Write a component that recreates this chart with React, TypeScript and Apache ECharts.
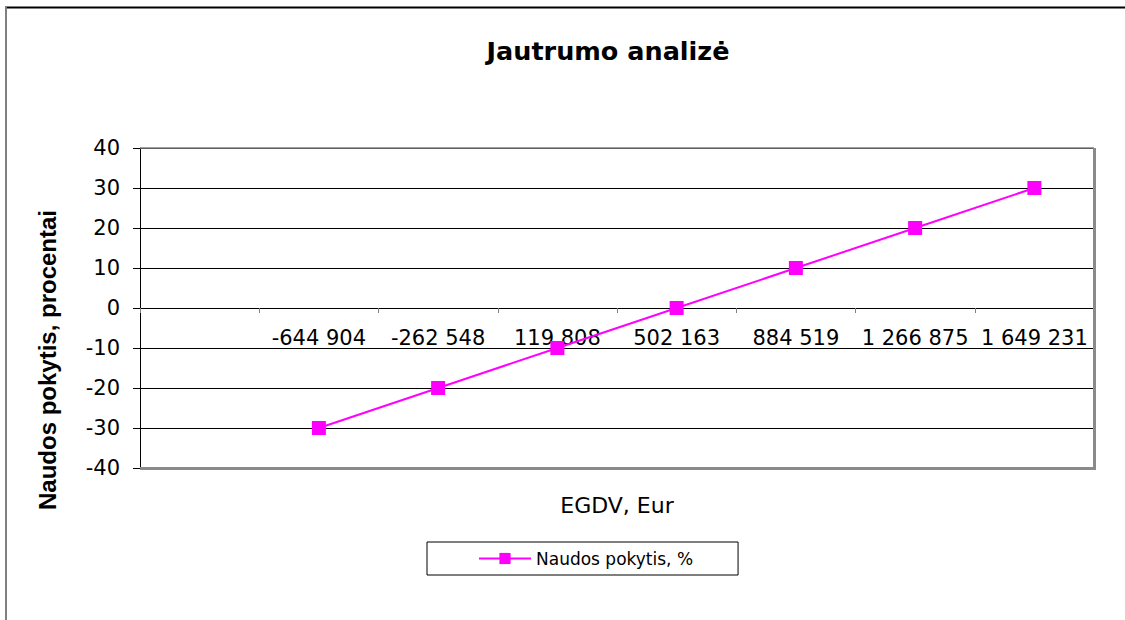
import React, { useEffect, useRef } from "react";
import * as echarts from "echarts";

const categories = ["", "-644 904", "-262 548", "119 808", "502 163", "884 519", "1 266 875", "1 649 231"];
const benefitChange = [null, -30, -20, -10, 0, 10, 20, 30];
const seriesName = "Naudos pokytis, %";
const titleText = "Jautrumo analizė";
const xName = "EGDV, Eur";
const yName = "Naudos pokytis, procentai";

const wideFont = "'DejaVu Sans', sans-serif";
const arialFont = "'Liberation Sans', Arial, sans-serif";

export default function App() {
  const ref = useRef<HTMLDivElement>(null);
  useEffect(() => {
    document.body.style.margin = "0";
    const chart = echarts.init(ref.current!, null, { renderer: "svg" });
    const L = 140, R = 1094, T = 148, B = 468;
    chart.setOption({
      animation: false,
      backgroundColor: "#ffffff",
      title: {
        text: titleText,
        left: 603,
        top: 33,
        textAlign: "center",
        textStyle: { fontFamily: wideFont, fontWeight: "bold", fontSize: 25.5, color: "#000" },
      },
      grid: { left: L, right: 1125 - R, top: T, bottom: 620 - B, containLabel: false, outerBoundsMode: "none" },
      legend: {
        left: 427,
        top: 542,
        orient: "horizontal",
        padding: [8, 45, 8, 51],
        borderColor: "#000",
        borderWidth: 1,
        borderRadius: 0,
        itemWidth: 52,
        itemHeight: 14,
        itemGap: 5,
        textStyle: { fontFamily: wideFont, fontSize: 17, color: "#000", padding: [0, 0, 0, 0] },
        data: [seriesName],
      },
      xAxis: {
        type: "category",
        data: categories,
        boundaryGap: true,
        offset: -(B - 308),
        name: xName,
        nameLocation: "middle",
        nameGap: 186,
        nameTextStyle: { fontFamily: wideFont, fontSize: 22, color: "#000" },
        axisLine: { onZero: false, lineStyle: { color: "#000", width: 1 } },
        axisTick: { show: true, length: 5, lineStyle: { color: "#808080" } },
        axisLabel: { interval: 0, margin: 19, fontFamily: wideFont, fontSize: 21, color: "#000" },
        splitLine: { show: false },
        z: 1,
      },
      yAxis: {
        type: "value",
        min: -40,
        max: 40,
        interval: 10,
        axisLine: { show: true, lineStyle: { color: "#000", width: 1 } },
        axisTick: { show: true, length: 7, lineStyle: { color: "#000" } },
        axisLabel: { margin: 20, fontFamily: wideFont, fontSize: 21, color: "#000" },
        splitLine: { show: true, lineStyle: { color: "#000", width: 1 } },
      },
      series: [
        {
          name: seriesName,
          type: "line",
          data: benefitChange,
          symbol: "rect",
          symbolSize: 14,
          color: "#FF00FF",
          itemStyle: { color: "#FF00FF" },
          lineStyle: { color: "#FF00FF", width: 2 },
          z: 5,
        },
      ],
      graphic: [
        { type: "line", z: 100, shape: { x1: 5, y1: 7.5, x2: 1125, y2: 7.5 }, style: { stroke: "#000", lineWidth: 2 } },
        { type: "line", z: 100, shape: { x1: 6, y1: 7, x2: 6, y2: 620 }, style: { stroke: "#808080", lineWidth: 2 } },
        { type: "line", z: 100, shape: { x1: L, y1: T, x2: R, y2: T }, style: { stroke: "#808080", lineWidth: 1.5 } },
        {
          type: "polyline",
          z: 100,
          shape: { points: [[R + 0.5, T], [R + 0.5, B + 0.5], [L, B + 0.5]] },
          style: { stroke: "#8a8a8a", lineWidth: 3, fill: null },
        },
        {
          type: "text",
          z: 100,
          x: 47,
          y: 360,
          rotation: Math.PI / 2,
          style: {
            text: yName,
            fontFamily: arialFont,
            fontWeight: "bold",
            fontSize: 24,
            fill: "#000",
            align: "center",
            verticalAlign: "middle",
          },
        },
      ],
    });
    return () => chart.dispose();
  }, []);
  return <div ref={ref} style={{ position: "absolute", left: 0, top: 0, width: 1125, height: 620 }} />;
}
